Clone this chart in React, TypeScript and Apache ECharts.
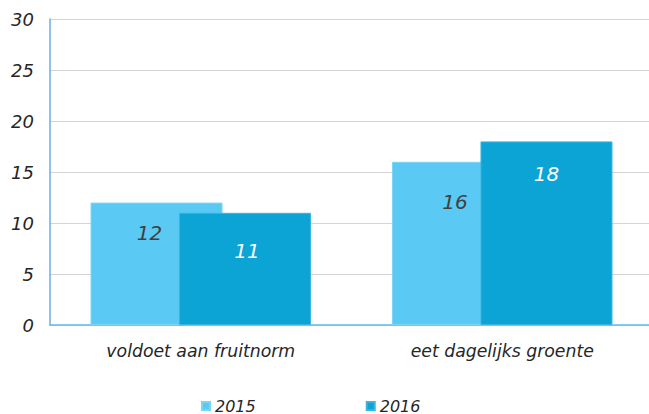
import React, { useEffect, useRef } from "react";
import * as echarts from "echarts";

const categories = ["voldoet aan fruitnorm", "eet dagelijks groente"];
const seriesNames = ["2015", "2016"];
const values2015 = [12, 16];
const values2016 = [11, 18];
const yTicks = [0, 5, 10, 15, 20, 25, 30];

const FONT = "'DejaVu Sans', Verdana, sans-serif";

export default function App() {
  const ref = useRef<HTMLDivElement>(null);
  useEffect(() => {
    if (!ref.current) return;
    const chart = echarts.init(ref.current, undefined, { renderer: "svg" });
    chart.setOption({
      animation: false,
      backgroundColor: "#ffffff",
      grid: {
        left: 50,
        top: 19,
        right: -4,
        bottom: 89,
        containLabel: false,
        outerBoundsMode: "none",
      },
      legend: {
        top: 393,
        left: 196,
        itemWidth: 8,
        itemHeight: 8,
        itemGap: 110,
        icon: "rect",
        data: seriesNames,
        textStyle: { fontFamily: FONT, fontStyle: "italic", fontSize: 16, color: "#262626" },
      },
      xAxis: {
        type: "category",
        data: categories,
        axisLine: { lineStyle: { color: "#5bbfe6", width: 1.5 } },
        axisTick: { show: false },
        axisLabel: { fontFamily: FONT, fontStyle: "italic", fontSize: 17.3, color: "#262626", margin: 17 },
      },
      yAxis: {
        type: "value",
        min: yTicks[0],
        max: yTicks[yTicks.length - 1],
        interval: 5,
        axisLine: { show: true, lineStyle: { color: "#6aaee0", width: 1.5 } },
        axisTick: { show: false },
        splitLine: { lineStyle: { color: "#d4d4d4", width: 1 } },
        axisLabel: { fontFamily: FONT, fontStyle: "italic", fontSize: 18, color: "#262626", margin: 16 },
      },
      series: [
        {
          name: seriesNames[0],
          type: "bar",
          data: values2015.map((v, i) => ({
            value: v,
            label: { offset: i === 0 ? [-7, 0] : [-3, 10] },
          })),
          barWidth: 132,
          barGap: "-33%",
          itemStyle: { color: "#5ac9f3", borderColor: "#7dd5f5", borderWidth: 1 },
          label: {
            show: true,
            position: "insideTop",
            distance: 20,
            fontFamily: FONT,
            fontStyle: "italic",
            fontSize: 20,
            color: "#404040",
          },
        },
        {
          name: seriesNames[1],
          type: "bar",
          data: values2016.map((v, i) => ({
            value: v,
            label: { offset: i === 0 ? [2, 8] : [0, 3] },
          })),
          barWidth: 132,
          barGap: "-33%",
          itemStyle: { color: "#0ca3d5", borderColor: "#3bb5e0", borderWidth: 1 },
          label: {
            show: true,
            position: "insideTop",
            distance: 20,
            fontFamily: FONT,
            fontStyle: "italic",
            fontSize: 20,
            color: "#ffffff",
          },
        },
      ],
    });
    return () => chart.dispose();
  }, []);
  return (
    <div
      ref={ref}
      style={{ position: "fixed", left: 0, top: 0, width: 649, height: 414 }}
    />
  );
}
